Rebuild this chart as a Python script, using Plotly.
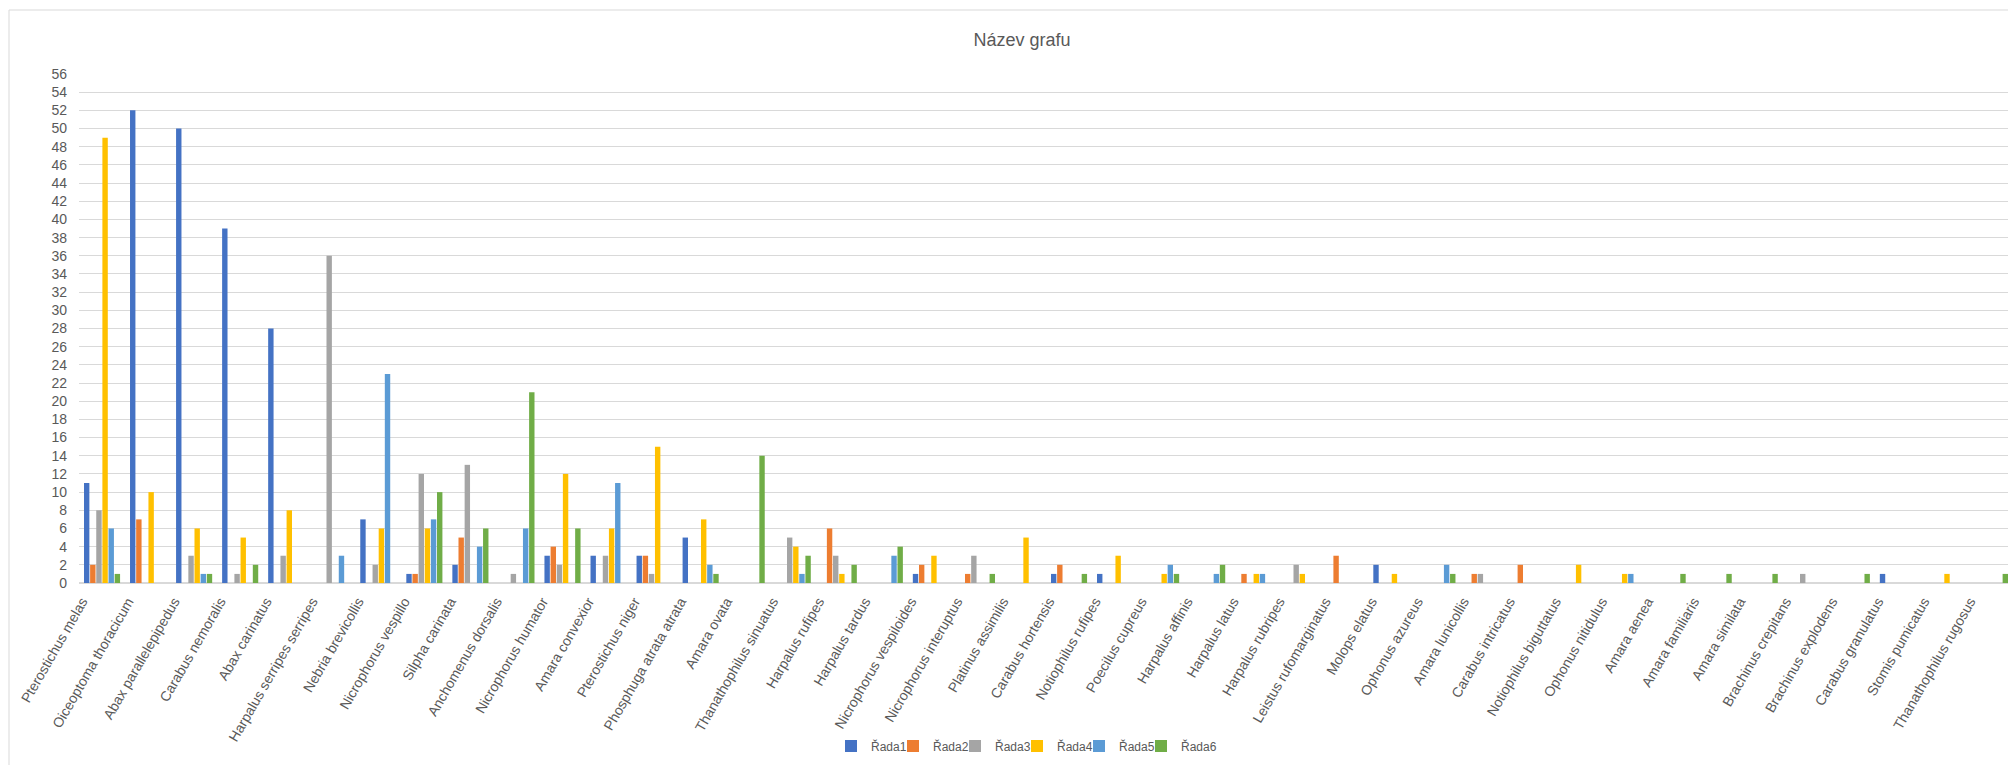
import plotly.graph_objects as go

categories = [
    "Pterostichus melas", "Oiceoptoma thoracicum", "Abax parallelepipedus", "Carabus nemoralis",
    "Abax carinatus", "Harpalus serripes serripes", "Nebria brevicollis", "Nicrophorus vespillo",
    "Silpha carinata", "Anchomenus dorsalis", "Nicrophorus humator", "Amara convexior",
    "Pterostichus niger", "Phosphuga atrata atrata", "Amara ovata", "Thanathophilus sinuatus",
    "Harpalus rufipes", "Harpalus tardus", "Nicrophorus vespiloides", "Nicrophorus interuptus",
    "Platinus assimilis", "Carabus hortensis", "Notiophilus rufipes", "Poecilus cupreus",
    "Harpalus affinis", "Harpalus latus", "Harpalus rubripes", "Leistus rufomarginatus",
    "Molops elatus", "Ophonus azureus", "Amara lunicollis", "Carabus intricatus",
    "Notiophilus biguttatus", "Ophonus nitidulus", "Amara aenea", "Amara familiaris",
    "Amara similata", "Brachinus crepitans", "Brachinus explodens", "Carabus granulatus",
    "Stomis pumicatus", "Thanathophilus rugosus",
]

rada1 = [11, 52, 50, 39, 28, 0, 7, 1, 2, 0, 3, 3, 3, 5, 0, 0, 0, 0, 1, 0, 0, 1, 1, 0, 0, 0, 0, 0, 2, 0, 0, 0, 0, 0, 0, 0, 0, 0, 0, 1, 0, 0]
rada2 = [2, 7, 0, 0, 0, 0, 0, 1, 5, 0, 4, 0, 3, 0, 0, 0, 6, 0, 2, 1, 0, 2, 0, 0, 0, 1, 0, 3, 0, 0, 1, 2, 0, 0, 0, 0, 0, 0, 0, 0, 0, 0]
rada3 = [8, 0, 3, 1, 3, 36, 2, 12, 13, 1, 2, 3, 1, 0, 0, 5, 3, 0, 0, 3, 0, 0, 0, 0, 0, 0, 2, 0, 0, 0, 1, 0, 0, 0, 0, 0, 0, 1, 0, 0, 0, 0]
rada4 = [49, 10, 6, 5, 8, 0, 6, 6, 0, 0, 12, 6, 15, 7, 0, 4, 1, 0, 3, 0, 5, 0, 3, 1, 0, 1, 1, 0, 1, 0, 0, 0, 2, 1, 0, 0, 0, 0, 0, 0, 1, 0]
rada5 = [6, 0, 1, 0, 0, 3, 23, 7, 4, 6, 0, 11, 0, 2, 0, 1, 0, 3, 0, 0, 0, 0, 0, 2, 1, 1, 0, 0, 0, 2, 0, 0, 0, 1, 0, 0, 0, 0, 0, 0, 0, 0]
rada6 = [1, 0, 1, 2, 0, 0, 0, 10, 6, 21, 6, 0, 0, 1, 14, 3, 2, 4, 0, 1, 0, 1, 0, 1, 2, 0, 0, 0, 0, 1, 0, 0, 0, 0, 1, 1, 1, 0, 1, 0, 0, 1]

series_names = ["Řada1", "Řada2", "Řada3", "Řada4", "Řada5", "Řada6"]
series_values = [rada1, rada2, rada3, rada4, rada5, rada6]
colors = ["#4472C4", "#ED7D31", "#A5A5A5", "#FFC000", "#5B9BD5", "#70AD47"]

y_ticks = list(range(0, 57, 2))

FONT = "Liberation Sans, Arial, sans-serif"
GREY = "#595959"

# the page body adds an 8px margin, so the figure is drawn 8px smaller
W, H = 2008, 757
L, R, T, B = 71, 3, 66, 182
pw = W - L - R
ph = H - T - B

fig = go.Figure()
legend_layouts = {}
for i, (name, vals, col) in enumerate(zip(series_names, series_values, colors)):
    key = "legend" if i == 0 else f"legend{i + 1}"
    fig.add_trace(go.Bar(x=categories, y=vals, name=name, legend=key,
                         marker=dict(color=col, line=dict(width=0))))
    legend_layouts[key] = dict(
        orientation="h", xanchor="left", x=(823 + i * 62 - L) / pw,
        yanchor="middle", y=-(738 - (H - B)) / ph,
        font=dict(family=FONT, size=12, color=GREY),
        bgcolor="rgba(0,0,0,0)", itemwidth=30,
    )

fig.update_layout(
    width=W, height=H,
    margin=dict(l=L, r=R, t=T, b=B, pad=0),
    paper_bgcolor="white", plot_bgcolor="white",
    barmode="group", bargap=0.2, bargroupgap=0.12,
    title=dict(text="Název grafu", x=1014 / W, xanchor="center", y=1 - 32 / H, yanchor="middle",
               font=dict(family=FONT, size=18, color=GREY)),
    font=dict(family=FONT, color=GREY),
    showlegend=True,
    xaxis=dict(type="category", tickangle=-60, tickfont=dict(family=FONT, size=14, color=GREY),
               ticklabelshift=-20, ticklabelstandoff=4,
               showgrid=False, showline=True, linecolor="#D9D9D9", linewidth=1,
               ticks="", automargin=False),
    yaxis=dict(range=[0, 56], tickvals=y_ticks, ticktext=[str(v) for v in y_ticks],
               tickfont=dict(family=FONT, size=14, color=GREY), ticklabelstandoff=11,
               showgrid=True, gridcolor="#D9D9D9", gridwidth=1, zeroline=True, zerolinecolor="#D9D9D9",
               ticks="", automargin=False, fixedrange=True),
    shapes=[
        dict(type="line", xref="paper", yref="paper", x0=(1 - L) / pw, x1=1.02, y0=1 + (T - 2) / ph, y1=1 + (T - 2) / ph,
             line=dict(color="#D9D9D9", width=1)),
        dict(type="line", xref="paper", yref="paper", x0=(1 - L) / pw, x1=(1 - L) / pw, y0=1 + (T - 2) / ph, y1=-(B + 10) / ph,
             line=dict(color="#D9D9D9", width=1)),
    ],
    **legend_layouts,
)

fig.write_html("out.html")
